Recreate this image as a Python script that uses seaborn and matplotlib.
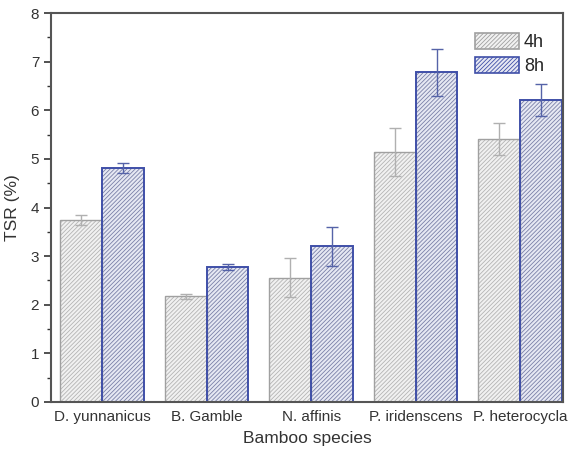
import numpy as np
import pandas as pd
import matplotlib
matplotlib.use('Agg')
import matplotlib.pyplot as plt
import seaborn as sns
from matplotlib.patches import Patch, Rectangle
from matplotlib.ticker import MultipleLocator

# values
species = ['D. yunnanicus', 'B. Gamble', 'N. affinis', 'P. iridenscens', 'P. heterocycla']
tsr_4h = [3.74, 2.17, 2.56, 5.14, 5.41]
tsr_8h = [4.82, 2.77, 3.20, 6.78, 6.21]
err_4h = [0.10, 0.05, 0.41, 0.49, 0.33]
err_8h = [0.10, 0.06, 0.40, 0.49, 0.33]
groups = ['4h', '8h']

df = pd.DataFrame({
    'species': species * 2,
    'time': ['4h'] * len(species) + ['8h'] * len(species),
    'tsr': tsr_4h + tsr_8h,
})

face = {'4h': '#f1f1f1', '8h': '#e6e8f3'}
hatch_col = {'4h': '#b4b4b4', '8h': '#7a80a8'}
edge = {'4h': '#a0a0a0', '8h': '#3f4fa8'}
err_col = {'4h': '#b0b0b0', '8h': '#5563a8'}
hatch = '/' * 8

sns.set_style('ticks')
plt.rcParams['font.family'] = ['Liberation Sans', 'DejaVu Sans']
plt.rcParams['hatch.linewidth'] = 0.6

fig = plt.figure(figsize=(5.75, 4.5), dpi=100)
ax = fig.add_axes([0.0887, 0.1067, 0.8903, 0.8643])

sns.barplot(data=df, x='species', y='tsr', hue='time', hue_order=groups,
            order=species, width=0.8, errorbar=None, legend=False, ax=ax,
            palette=face)

# hatch in a soft colour, outline drawn on top in the group colour
for cont, g, errs in zip(ax.containers, groups, [err_4h, err_8h]):
    xs, ys = [], []
    for bar in cont:
        bar.set_facecolor(face[g])
        bar.set_edgecolor(hatch_col[g])
        bar.set_hatch(hatch)
        bar.set_linewidth(0)
        ax.add_patch(Rectangle(bar.get_xy(), bar.get_width(), bar.get_height(),
                               fill=False, edgecolor=edge[g],
                               linewidth=1.4 if g == '8h' else 1.0, zorder=3))
        xs.append(bar.get_x() + bar.get_width() / 2)
        ys.append(bar.get_height())
    ax.errorbar(xs, ys, yerr=errs, fmt='none', ecolor=err_col[g],
                elinewidth=1.0, capsize=4, capthick=1.0, zorder=5)

ax.set_xlim(-0.49, 4.41)
ax.set_ylim(0, 8)
ax.yaxis.set_major_locator(MultipleLocator(1))
ax.yaxis.set_minor_locator(MultipleLocator(0.5))
ax.tick_params(axis='y', which='major', length=5, width=1.2, labelsize=11,
               colors='#333333', direction='out')
ax.tick_params(axis='y', which='minor', length=3, width=1.0, colors='#333333')
ax.tick_params(axis='x', length=0, labelsize=11, colors='#333333', pad=6)
for s in ax.spines.values():
    s.set_visible(True)
    s.set_color('#555555')
    s.set_linewidth(1.5)
    s.set_zorder(6)

ax.set_ylabel('TSR (%)', fontsize=12.5, color='#333333', labelpad=8)
ax.set_xlabel('Bamboo species', fontsize=12.5, color='#333333', labelpad=5)

handles = [Patch(facecolor=face[g], edgecolor=edge[g], hatch=hatch, label=g,
                 linewidth=1.2)
           for g in groups]
ax.legend(handles=handles, loc='upper right', frameon=False, fontsize=13,
          handlelength=2.4, handleheight=1.0, handletextpad=0.3,
          labelspacing=0.3, bbox_to_anchor=(0.995, 0.99))

fig.savefig('out.png', dpi=100)
